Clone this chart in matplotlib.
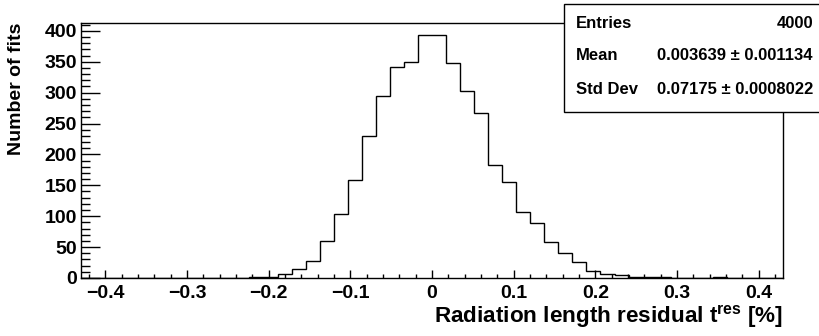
import numpy as np
import matplotlib
matplotlib.use("Agg")
import matplotlib.pyplot as plt
from matplotlib.patches import Rectangle
from matplotlib.ticker import MultipleLocator

plt.rcParams['font.family'] = ['Liberation Sans', 'DejaVu Sans']
plt.rcParams['font.weight'] = 'bold'
plt.rcParams['mathtext.fontset'] = 'custom'
plt.rcParams['mathtext.rm'] = 'Liberation Sans:bold'
plt.rcParams['mathtext.bf'] = 'Liberation Sans:bold'

# histogram: 50 bins from -0.43 to 0.43
x_min, x_max, n_bins = -0.43, 0.43, 50
counts = [0, 0, 0, 0, 0, 0, 0, 0, 0, 0,
          0, 0, 1, 2, 7, 14, 27, 60, 104, 158,
          229, 294, 342, 350, 393, 393, 348, 303, 267, 183,
          156, 106, 89, 59, 41, 26, 11, 7, 5, 2,
          1, 2, 0, 0, 0, 1, 0, 0, 0, 0]

x_ticks = [-0.4, -0.3, -0.2, -0.1, 0.0, 0.1, 0.2, 0.3, 0.4]
x_tick_labels = ["\u22120.4", "\u22120.3", "\u22120.2", "\u22120.1", "0",
                 "0.1", "0.2", "0.3", "0.4"]
y_ticks = [0, 50, 100, 150, 200, 250, 300, 350, 400]

stats_names = ["Entries", "Mean", "Std Dev"]
stats_values = ["4000", "0.003639 \u00b1 0.001134", "0.07175 \u00b1 0.0008022"]

W, H = 820, 336
fig = plt.figure(figsize=(W / 100, H / 100), dpi=100)
ax = fig.add_axes([81 / W, 1 - 278 / H, 702 / W, 255 / H])

edges = np.linspace(x_min, x_max, n_bins + 1)
ax.stairs(counts, edges, color='black', linewidth=1.0)

ax.set_xlim(x_min, x_max)
ax.set_ylim(0, max(counts) * 1.05)

ax.set_xticks(x_ticks)
ax.set_xticklabels(x_tick_labels)
ax.xaxis.set_minor_locator(MultipleLocator(0.02))
ax.set_yticks(y_ticks)
ax.yaxis.set_minor_locator(MultipleLocator(10))

ax.tick_params(axis='x', which='major', direction='in', length=5.8, width=1,
               labelsize=14, pad=5)
ax.tick_params(axis='x', which='minor', direction='in', length=2.9, width=1)
ax.tick_params(axis='y', which='major', direction='in', length=13.7, width=1,
               labelsize=14, pad=3)
ax.tick_params(axis='y', which='minor', direction='in', length=6.5, width=1)
for lab in ax.get_xticklabels() + ax.get_yticklabels():
    lab.set_fontweight('bold')
for s in ax.spines.values():
    s.set_linewidth(1.0)

fig.text(783 / W, 1 - 323 / H, r"Radiation length residual t$^{\mathbf{res}}$ [%]",
         ha='right', va='baseline', fontsize=16.2, fontweight='bold')
fig.text(17 / W, 1 - 23 / H, "Number of fits", rotation=90,
         ha='center', va='top', fontsize=14, fontweight='bold')

# stats box
box = Rectangle((564 / W, 1 - 112 / H), 260 / W, 108 / H, transform=fig.transFigure,
                facecolor='white', edgecolor='black', linewidth=1.0, zorder=5,
                clip_on=False)
fig.patches.append(box)
row_y = [23, 56, 90]
for name, val, yy in zip(stats_names, stats_values, row_y):
    fig.text(576 / W, 1 - yy / H, name, ha='left', va='center', fontsize=12,
             fontweight='bold', zorder=6)
    fig.text(813 / W, 1 - yy / H, val, ha='right', va='center', fontsize=12,
             fontweight='bold', zorder=6)

fig.savefig("out.png", dpi=100)
